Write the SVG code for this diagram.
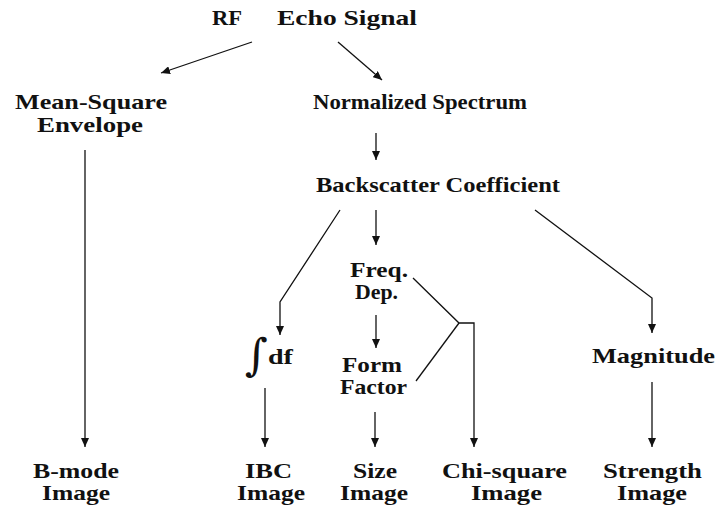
<svg xmlns="http://www.w3.org/2000/svg" width="717" height="506" viewBox="0 0 717 506">
<defs>
<style>
text{font-family:"Liberation Serif","Times New Roman",serif;font-weight:bold;font-size:21px;fill:#111}
.int{font-family:"DejaVu Serif",serif;font-weight:normal;font-size:44px}
.c line,.c polyline{stroke:#111;stroke-width:1.3;fill:none}
.a{marker-end:url(#ah)}
</style>
<marker id="ah" markerUnits="userSpaceOnUse" markerWidth="9" markerHeight="8" refX="9" refY="4" orient="auto">
<path d="M0,0 L9,4 L0,8 Z" fill="#111"/>
</marker>
</defs>
<rect width="717" height="506" fill="#fff"/>
<g class="c" id="connectors">
<line class="a" x1="252" y1="42" x2="161" y2="73"/>
<line class="a" x1="338" y1="42" x2="382" y2="80"/>
<line class="a" x1="85" y1="150" x2="85" y2="447"/>
<line class="a" x1="376" y1="133" x2="376" y2="160"/>
<line class="a" x1="376" y1="210" x2="376" y2="245"/>
<polyline class="a" points="340,210 280,302 280,335"/>
<polyline class="a" points="535,210 652,298 652,333"/>
<line class="a" x1="376" y1="315" x2="376" y2="348"/>
<polyline class="a" points="413,278 459,323 474,323 474,447"/>
<line x1="416" y1="381" x2="459" y2="323"/>
<line class="a" x1="265" y1="388" x2="265" y2="447"/>
<line class="a" x1="375" y1="412" x2="375" y2="447"/>
<line class="a" x1="652" y1="382" x2="652" y2="447"/>
</g>
<g id="rf"><text x="212" y="25" textLength="30" lengthAdjust="spacingAndGlyphs">RF</text><text x="277" y="25" textLength="140" lengthAdjust="spacingAndGlyphs">Echo Signal</text></g>
<g id="envelope"><text x="15" y="109" textLength="152" lengthAdjust="spacingAndGlyphs">Mean-Square</text><text x="37" y="132" textLength="106" lengthAdjust="spacingAndGlyphs">Envelope</text></g>
<g id="spectrum"><text x="313" y="109" textLength="214" lengthAdjust="spacingAndGlyphs">Normalized Spectrum</text></g>
<g id="backscatter"><text x="316" y="192" textLength="244" lengthAdjust="spacingAndGlyphs">Backscatter Coefficient</text></g>
<g id="freqdep"><text x="350" y="277" textLength="58" lengthAdjust="spacingAndGlyphs">Freq.</text><text x="355" y="299" textLength="43" lengthAdjust="spacingAndGlyphs">Dep.</text></g>
<g id="formfactor"><text x="342" y="372" textLength="60" lengthAdjust="spacingAndGlyphs">Form</text><text x="340" y="394" textLength="67" lengthAdjust="spacingAndGlyphs">Factor</text></g>
<g id="integral"><text class="int" x="245" y="370">∫</text><text x="268" y="364" textLength="25" lengthAdjust="spacingAndGlyphs">df</text></g>
<g id="magnitude"><text x="592" y="363" textLength="123" lengthAdjust="spacingAndGlyphs">Magnitude</text></g>
<g id="bmode"><text x="33" y="478" textLength="86" lengthAdjust="spacingAndGlyphs">B-mode</text><text x="42" y="500" textLength="68" lengthAdjust="spacingAndGlyphs">Image</text></g>
<g id="ibc"><text x="245" y="478" textLength="47" lengthAdjust="spacingAndGlyphs">IBC</text><text x="237" y="500" textLength="68" lengthAdjust="spacingAndGlyphs">Image</text></g>
<g id="size"><text x="353" y="478" textLength="44" lengthAdjust="spacingAndGlyphs">Size</text><text x="340" y="500" textLength="68" lengthAdjust="spacingAndGlyphs">Image</text></g>
<g id="chisquare"><text x="442" y="478" textLength="125" lengthAdjust="spacingAndGlyphs">Chi-square</text><text x="471" y="500" textLength="71" lengthAdjust="spacingAndGlyphs">Image</text></g>
<g id="strength"><text x="603" y="478" textLength="99" lengthAdjust="spacingAndGlyphs">Strength</text><text x="617" y="500" textLength="70" lengthAdjust="spacingAndGlyphs">Image</text></g>
</svg>
